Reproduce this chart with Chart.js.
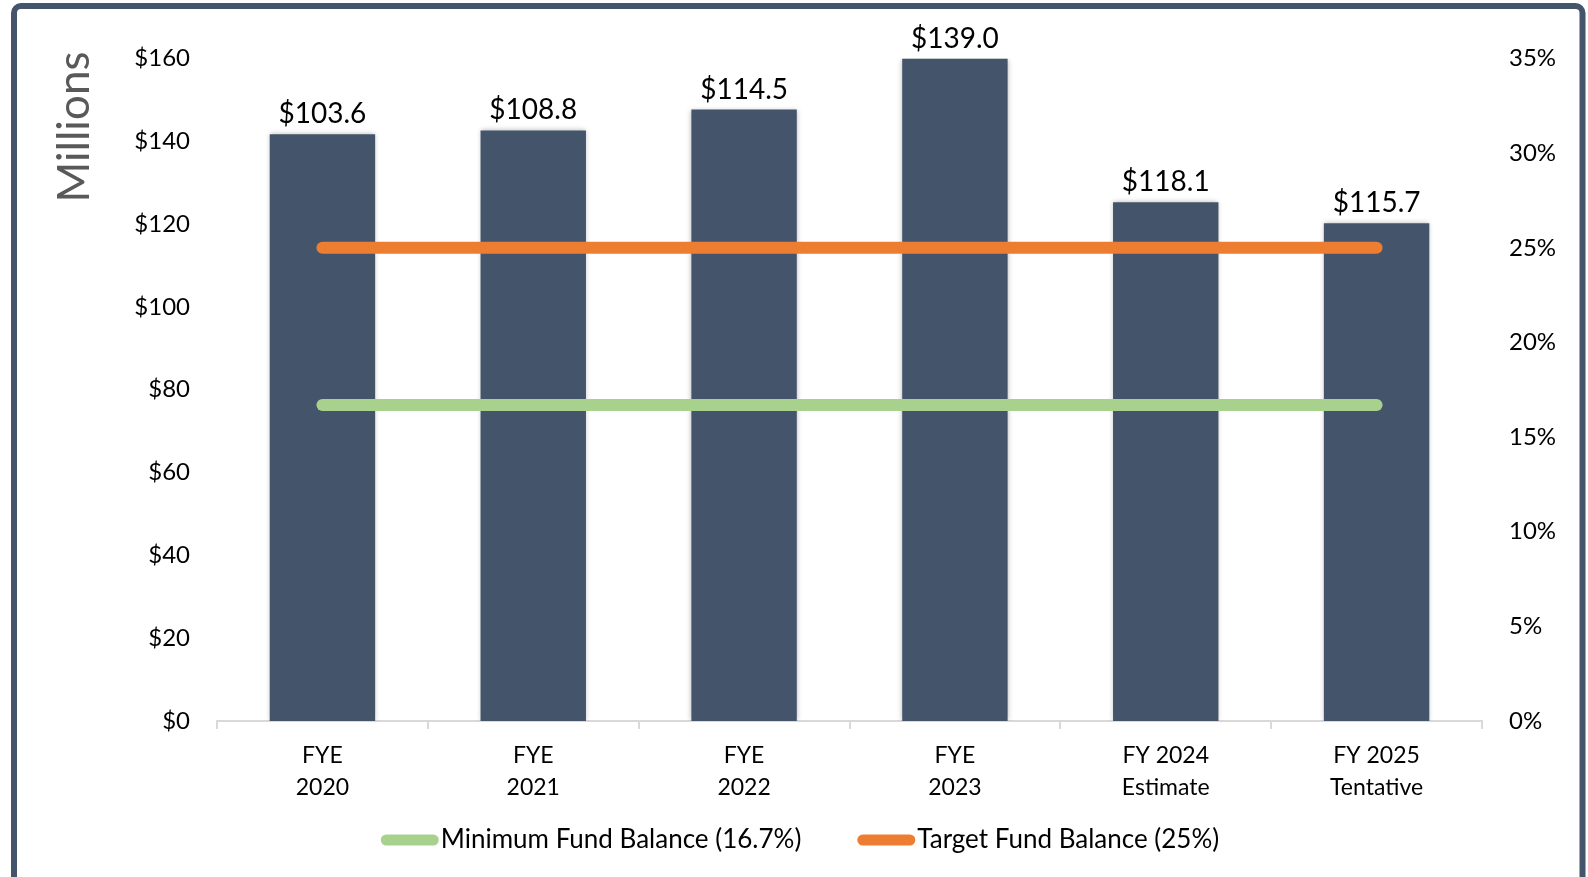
<!DOCTYPE html>
<html>
<head>
<meta charset="utf-8">
<script src="https://cdn.jsdelivr.net/npm/chart.js@4.4.1/dist/chart.umd.min.js"></script>
<style>
  html, body { margin: 0; padding: 0; background: #ffffff; overflow: hidden; }
  #wrap { position: relative; width: 1588px; height: 877px; }
  canvas { display: block; }
</style>
</head>
<body>
<div id="wrap"><canvas id="c" width="1588" height="877"></canvas></div>
<script>
// ---- Data ----
const categories = [['FYE', '2020'], ['FYE', '2021'], ['FYE', '2022'], ['FYE', '2023'], ['FY 2024', 'Estimate'], ['FY 2025', 'Tentative']];
const fundBalanceMillions = [103.6, 108.8, 114.5, 139.0, 118.1, 115.7];   // data labels ($ millions)
const fundBalancePercent = [31.0, 31.2, 32.3, 35.0, 27.4, 26.3];           // bar heights (right axis, %)
const minimumFundBalance = [16.7, 16.7, 16.7, 16.7, 16.7, 16.7];
const targetFundBalance = [25, 25, 25, 25, 25, 25];
const leftTicks = [0, 20, 40, 60, 80, 100, 120, 140, 160];
const rightTicks = [0, 5, 10, 15, 20, 25, 30, 35];
const axisTitle = 'Millions';
const minLabel = 'Minimum Fund Balance (16.7%)';
const targetLabel = 'Target Fund Balance (25%)';

const FONT = 'Lato';
const BAR = '#44546A';
const GREEN = '#A9D18E';
const ORANGE = '#ED7D31';

const decor = {
  id: 'decor',
  beforeDatasetDraw(chart, args) {
    if (args.meta.type === 'bar') {
      const ctx = chart.ctx;
      ctx.save();
      ctx.shadowColor = 'rgba(0,0,0,0.28)';
      ctx.shadowBlur = 5;
      ctx.shadowOffsetX = 0;
      ctx.shadowOffsetY = 0;
    }
  },
  afterDatasetDraw(chart, args) {
    if (args.meta.type === 'bar') chart.ctx.restore();
  },
  afterDatasetsDraw(chart) {
    const ctx = chart.ctx;
    const meta = chart.getDatasetMeta(0);
    ctx.save();
    ctx.font = '28px ' + FONT;
    ctx.fillStyle = '#000000';
    ctx.textAlign = 'center';
    ctx.textBaseline = 'middle';
    meta.data.forEach((el, i) => {
      ctx.fillText('$' + fundBalanceMillions[i].toFixed(1), el.x, el.y - 20);
    });
    ctx.restore();
  },
  afterDraw(chart) {
    const ctx = chart.ctx;
    // axis title
    ctx.save();
    ctx.translate(75, 127);
    ctx.rotate(-Math.PI / 2);
    ctx.font = '44px ' + FONT;
    ctx.fillStyle = '#595959';
    ctx.textAlign = 'center';
    ctx.textBaseline = 'middle';
    ctx.fillText(axisTitle, 0, 0);
    ctx.restore();

    // legend
    ctx.save();
    ctx.font = '26px ' + FONT;
    const items = [
      { text: chart.data.datasets[1].label, color: chart.data.datasets[1].borderColor },
      { text: chart.data.datasets[2].label, color: chart.data.datasets[2].borderColor }
    ];
    const lineW = 58, gap = 2, itemGap = 56;
    const widths = items.map(it => ctx.measureText(it.text).width);
    const total = lineW + gap + widths[0] + itemGap + lineW + gap + widths[1];
    let x = 800 - total / 2;
    const y = 840;
    ctx.textBaseline = 'middle';
    ctx.textAlign = 'left';
    items.forEach((it, i) => {
      ctx.strokeStyle = it.color;
      ctx.lineWidth = 11;
      ctx.lineCap = 'round';
      ctx.beginPath();
      ctx.moveTo(x + 5.5, y);
      ctx.lineTo(x + lineW - 5.5, y);
      ctx.stroke();
      ctx.fillStyle = '#000000';
      ctx.fillText(it.text, x + lineW + gap, y);
      x += lineW + gap + widths[i] + itemGap;
    });
    ctx.restore();

    // frame
    ctx.save();
    ctx.strokeStyle = BAR;
    ctx.lineWidth = 6;
    ctx.beginPath();
    ctx.roundRect(14, 6, 1568.5, 920, 7);
    ctx.stroke();
    ctx.restore();
  }
};

new Chart(document.getElementById('c'), {
  type: 'bar',
  data: {
    labels: categories,
    datasets: [
      {
        type: 'bar',
        label: 'Fund Balance',
        data: fundBalancePercent,
        backgroundColor: BAR,
        borderWidth: 0,
        yAxisID: 'y1',
        categoryPercentage: 1.0,
        barPercentage: 0.5,
        order: 2
      },
      {
        type: 'line',
        label: minLabel,
        data: minimumFundBalance,
        borderColor: GREEN,
        backgroundColor: GREEN,
        borderWidth: 12,
        borderCapStyle: 'round',
        pointRadius: 0,
        fill: false,
        yAxisID: 'y1',
        order: 1
      },
      {
        type: 'line',
        label: targetLabel,
        data: targetFundBalance,
        borderColor: ORANGE,
        backgroundColor: ORANGE,
        borderWidth: 12,
        borderCapStyle: 'round',
        pointRadius: 0,
        fill: false,
        yAxisID: 'y1',
        order: 1
      }
    ]
  },
  options: {
    responsive: false,
    animation: false,
    devicePixelRatio: 1,
    layout: { padding: { top: 58.5, left: 0, right: 0, bottom: 0 } },
    plugins: {
      legend: { display: false },
      tooltip: { enabled: false }
    },
    scales: {
      x: {
        offset: true,
        grid: {
          offset: true,
          drawOnChartArea: false,
          drawTicks: true,
          tickLength: 8,
          color: '#D9D9D9',
          lineWidth: 2
        },
        border: { display: true, color: '#D9D9D9', width: 2 },
        ticks: {
          color: '#000000',
          padding: 10,
          maxRotation: 0,
          autoSkip: false,
          font: { family: FONT, size: 23, lineHeight: 1.4 }
        },
        afterFit(scale) { scale.height = 156; }
      },
      y: {
        position: 'left',
        min: leftTicks[0],
        max: leftTicks[leftTicks.length - 1],
        afterBuildTicks(scale) { scale.ticks = leftTicks.map(v => ({ value: v })); },
        grid: { display: false, drawTicks: false },
        border: { display: false },
        ticks: {
          color: '#000000',
          padding: 27,
          font: { family: FONT, size: 24 },
          callback: v => '$' + v
        },
        afterFit(scale) { scale.width = 217; }
      },
      y1: {
        position: 'right',
        min: rightTicks[0],
        max: rightTicks[rightTicks.length - 1],
        afterBuildTicks(scale) { scale.ticks = rightTicks.map(v => ({ value: v })); },
        grid: { display: false, drawTicks: false },
        border: { display: false },
        ticks: {
          color: '#000000',
          padding: 27,
          font: { family: FONT, size: 24 },
          callback: v => v + '%'
        },
        afterFit(scale) { scale.width = 106; }
      }
    }
  },
  plugins: [decor]
});
</script>
</body>
</html>
